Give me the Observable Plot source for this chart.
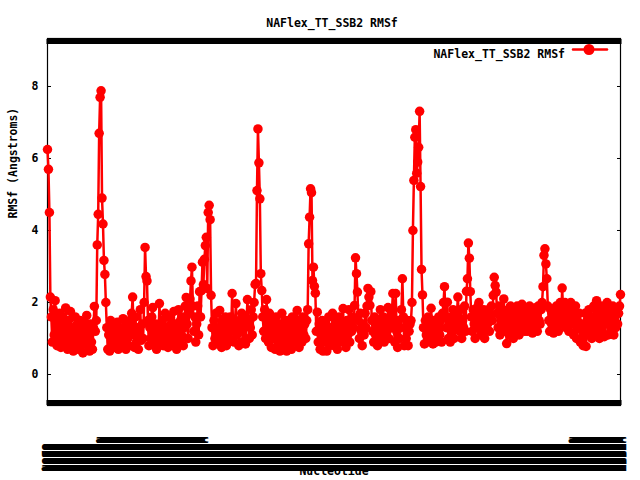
<!DOCTYPE html>
<html><head><meta charset="utf-8">
<script src="https://cdn.jsdelivr.net/npm/d3@7"></script>
<script src="https://cdn.jsdelivr.net/npm/@observablehq/plot@0.6"></script>
<style>body{margin:0;background:#fff} svg{display:block}</style>
</head><body><div id="chart"></div>
<script>
const title = "NAFlex_TT_SSB2 RMSf";
const seriesName = "NAFlex_TT_SSB2 RMSf";
const xLabel = "Nucleotide";
const yLabel = "RMSf (Angstroms)";
const yTicks = [0, 2, 4, 6, 8];
const rmsf = [
6.25,5.7,4.5,2.15,1.6,0.9,1.8,1.1,2.05,1.3,
0.8,1.5,1.0,1.7,0.75,1.2,1.6,0.9,1.3,1.85,
1.1,0.7,1.5,0.95,1.75,0.8,1.3,0.65,1.2,1.6,
0.9,1.4,0.7,1.1,1.5,0.8,1.25,0.6,1.0,1.45,
1.0,1.64,0.8,1.2,0.65,1.4,0.9,0.7,1.3,1.89,
1.2,1.5,3.6,4.45,6.7,7.7,7.88,4.9,4.18,3.17,
2.78,2.0,1.3,0.7,1.1,0.65,1.5,0.9,1.2,0.75,
1.3,0.8,1.1,1.45,0.7,1.0,1.3,0.85,1.2,1.55,
0.9,1.2,0.7,1.4,1.0,0.8,1.5,1.1,1.7,2.15,
1.2,0.75,1.6,0.9,1.3,0.7,1.1,1.8,0.95,1.4,
1.0,2.0,3.53,2.72,2.6,1.5,0.8,1.3,1.0,1.6,
1.86,1.1,0.8,1.4,0.7,1.2,1.0,1.97,1.3,0.9,
1.5,0.8,1.2,1.7,0.9,1.3,0.75,1.6,1.05,1.4,
0.85,1.3,1.75,1.0,1.4,0.7,1.2,1.8,0.9,1.5,
1.1,1.6,0.8,1.3,1.9,2.14,1.4,1.0,1.7,2.1,
2.6,2.98,1.9,1.2,1.6,0.9,1.4,1.9,1.1,2.3,
1.6,2.33,3.12,2.5,3.2,3.58,3.81,2.39,4.5,4.7,
4.3,2.2,1.3,0.8,1.5,1.0,1.7,0.9,1.3,1.1,
1.78,1.2,0.75,1.5,0.9,1.3,1.6,0.8,1.1,1.4,
1.0,1.6,1.2,2.25,1.4,0.9,1.5,1.97,1.1,1.3,
0.8,1.5,1.2,1.7,0.9,1.3,1.6,0.85,1.4,2.08,
1.5,1.0,1.3,1.8,1.1,1.6,2.0,2.5,2.53,5.11,
6.82,5.88,4.88,2.8,2.33,1.6,1.2,1.8,1.0,2.08,
1.4,0.9,1.7,1.2,0.75,1.5,1.0,1.3,0.7,1.6,
1.1,0.8,1.4,0.65,1.2,1.7,0.9,1.3,0.7,1.5,
0.65,1.1,1.5,0.8,1.3,0.7,1.6,1.0,1.4,0.9,
1.3,1.78,1.0,0.75,1.5,1.2,0.9,1.6,1.1,1.4,
1.0,1.5,1.8,3.63,4.37,5.16,5.05,2.61,2.98,2.45,
2.26,1.2,1.73,0.9,1.4,0.7,1.1,1.5,0.65,1.2,
0.9,1.4,0.65,1.1,1.6,0.8,1.3,1.0,1.7,1.2,
0.8,1.5,1.1,0.7,1.3,1.6,0.9,1.2,1.4,1.83,
1.0,1.3,0.75,1.5,1.1,1.8,0.9,1.4,1.2,1.6,
1.3,1.92,3.24,2.8,2.29,1.5,1.0,1.7,1.2,0.8,
1.4,1.1,1.7,1.3,1.9,2.39,2.15,1.92,2.3,1.5,
1.2,0.9,1.6,1.1,1.4,0.8,1.5,1.2,1.8,1.0,
1.3,1.6,0.9,1.4,1.1,1.2,1.86,1.0,1.5,1.3,
1.7,2.25,1.4,0.9,2.25,1.2,0.75,1.5,1.0,1.3,
1.8,2.66,1.6,0.8,1.3,1.0,1.5,0.8,1.2,1.4,
1.5,2.0,4.0,5.39,6.59,6.8,5.59,5.9,6.31,7.31,
5.22,2.92,2.21,1.3,0.85,1.5,1.1,0.9,1.6,1.2,
1.0,1.84,1.3,0.85,1.5,1.1,0.9,1.4,1.2,1.6,
1.1,1.5,0.9,1.7,2.0,2.44,1.6,1.3,2.01,1.0,
1.4,0.9,1.6,1.2,1.8,1.0,1.5,1.3,1.7,2.15,
1.6,1.2,1.8,1.0,1.5,1.3,1.9,1.2,2.31,2.66,
3.65,3.23,2.3,1.6,1.2,1.8,1.4,1.0,1.7,1.3,
1.9,2.0,1.4,1.1,1.7,1.3,1.8,1.0,1.5,1.6,
1.4,1.8,1.2,1.6,1.9,1.5,2.2,2.7,2.47,2.29,
1.7,1.3,1.9,1.1,1.6,1.4,1.8,2.1,1.2,1.5,
0.86,1.4,1.7,1.1,1.9,1.3,1.6,1.0,1.8,1.4,
1.2,1.9,1.5,1.1,1.7,1.3,1.95,1.4,1.6,1.2,
1.5,1.8,1.2,1.6,1.9,1.3,1.7,1.15,1.5,1.85,
1.3,1.7,1.2,1.9,1.5,1.4,1.8,2.0,2.44,3.31,
3.49,3.07,2.66,1.9,1.5,1.2,1.8,1.4,1.7,1.15,
1.6,1.3,1.9,1.5,1.2,1.7,2.0,1.4,2.4,1.8,
1.5,2.0,1.3,1.7,1.9,1.2,1.6,2.0,1.4,1.8,
1.1,1.6,1.9,1.0,1.5,1.3,1.7,0.9,1.4,1.2,
0.8,1.3,1.7,0.78,1.5,1.1,1.8,1.2,1.6,1.0,
1.4,1.9,1.1,1.6,2.05,1.3,1.7,1.0,1.5,1.9,
1.2,1.6,1.05,1.8,1.4,2.0,1.1,1.5,1.7,1.3,
1.5,1.9,1.1,1.6,1.3,1.8,1.4,1.7,1.9,2.22
];
// x tick label lines (unreadable, overlapping nucleotide labels)
const tickLabelLines = ["ac", "cu", "ua", "ca", "au"];
const firstLineSpans = [[57, 162], [551, 599]];

const red = "#ff0000";
const font = "DejaVu Sans Mono";
const points = rmsf.map((v, i) => ({i, v}));
const idx = rmsf.map((_, i) => i);
const hasFirst = (i) => firstLineSpans.some(([a, b]) => i >= a && i <= b);
const tickLabel = (i) => [hasFirst(i) ? tickLabelLines[0] : "", ...tickLabelLines.slice(1)].join("\n");
const lineShape = {draw(ctx, l) { ctx.moveTo(0, 0); ctx.lineTo(0, -l); }};

const plot = Plot.plot({
  width: 640,
  height: 480,
  marginLeft: 47,
  marginRight: 20,
  marginTop: 38,
  marginBottom: 75,
  style: {fontFamily: font, fontSize: "11.5px", fontWeight: "bold", background: "#fff", color: "#000"},
  x: {domain: [0, rmsf.length - 1]},
  y: {domain: [-0.861, 9.333]},
  marks: [
    Plot.text([xLabel], {text: d => d, frameAnchor: "bottom", dy: 69.5, fill: "#000"}),
    Plot.axisX({anchor: "bottom", ticks: idx, tickSize: 0, tickPadding: 32.5, tickFormat: tickLabel,
      fontSize: 11, lineHeight: 0.636, label: null}),
    Plot.axisX({anchor: "bottom", ticks: idx, tickSize: -5, strokeWidth: 2, tickFormat: () => "", label: null}),
    Plot.axisX({anchor: "top", ticks: idx, tickSize: -5, strokeWidth: 2, tickFormat: () => "", label: null}),
    Plot.axisY({anchor: "left", ticks: yTicks, tickSize: -4, tickFormat: () => "", label: null}),
    Plot.axisY({anchor: "right", ticks: yTicks, tickSize: -4, tickFormat: () => "", label: null}),
    Plot.axisY({anchor: "left", ticks: yTicks, tickSize: 0, tickPadding: 9, label: null}),
    Plot.frame({stroke: "#000", strokeWidth: 1.2}),
    Plot.line(points, {x: "i", y: "v", stroke: red, strokeWidth: 2.5}),
    Plot.dot(points, {x: "i", y: "v", r: 4.75, fill: red}),
    Plot.text([title], {text: d => d, frameAnchor: "top", dy: -19.5, dx: -2, fill: "#000"}),
    Plot.text([yLabel], {text: d => d, frameAnchor: "left", dx: -34, dy: -3.5, rotate: -90, fill: "#000"}),
    Plot.text([seriesName], {text: d => d, frameAnchor: "top-right", dx: -55.5, dy: 11, textAnchor: "end", fill: "#000"}),
    Plot.vector([seriesName], {frameAnchor: "top-right", dx: -47.5, dy: 11, length: 34, rotate: 90, anchor: "start",
      stroke: red, strokeWidth: 2.5, shape: lineShape}),
    Plot.dot([seriesName], {frameAnchor: "top-right", dx: -31.5, dy: 11, r: 5.5, fill: red})
  ]
});
document.getElementById("chart").appendChild(plot);
</script>
</body></html>
